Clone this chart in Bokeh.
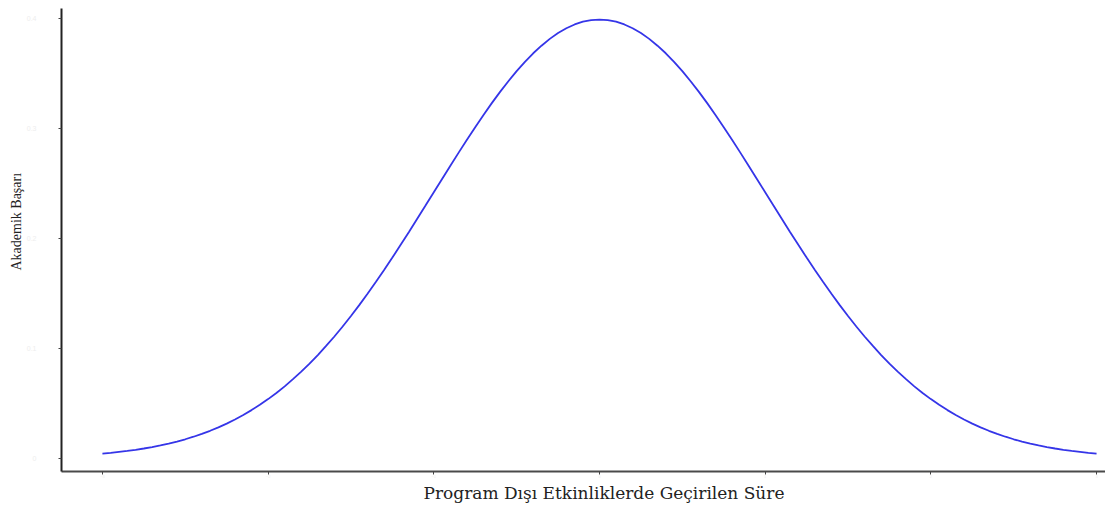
from bokeh.plotting import figure
from bokeh.models import Range1d, FixedTicker, Title
from bokeh.embed import file_html
from bokeh.resources import INLINE

# Values
x_values = [-3.0, -2.95, -2.9, -2.85, -2.8, -2.75, -2.7, -2.65, -2.6, -2.55,
            -2.5, -2.45, -2.4, -2.35, -2.3, -2.25, -2.2, -2.15, -2.1, -2.05,
            -2.0, -1.95, -1.9, -1.85, -1.8, -1.75, -1.7, -1.65, -1.6, -1.55,
            -1.5, -1.45, -1.4, -1.35, -1.3, -1.25, -1.2, -1.15, -1.1, -1.05,
            -1.0, -0.95, -0.9, -0.85, -0.8, -0.75, -0.7, -0.65, -0.6, -0.55,
            -0.5, -0.45, -0.4, -0.35, -0.3, -0.25, -0.2, -0.15, -0.1, -0.05,
            0.0,
            0.05, 0.1, 0.15, 0.2, 0.25, 0.3, 0.35, 0.4, 0.45, 0.5,
            0.55, 0.6, 0.65, 0.7, 0.75, 0.8, 0.85, 0.9, 0.95, 1.0,
            1.05, 1.1, 1.15, 1.2, 1.25, 1.3, 1.35, 1.4, 1.45, 1.5,
            1.55, 1.6, 1.65, 1.7, 1.75, 1.8, 1.85, 1.9, 1.95, 2.0,
            2.05, 2.1, 2.15, 2.2, 2.25, 2.3, 2.35, 2.4, 2.45, 2.5,
            2.55, 2.6, 2.65, 2.7, 2.75, 2.8, 2.85, 2.9, 2.95, 3.0]
y_values = [0.0044, 0.0051, 0.0060, 0.0069, 0.0079, 0.0091, 0.0104, 0.0119, 0.0136, 0.0154,
            0.0175, 0.0198, 0.0224, 0.0252, 0.0283, 0.0317, 0.0355, 0.0396, 0.0440, 0.0488,
            0.0540, 0.0596, 0.0656, 0.0721, 0.0790, 0.0863, 0.0940, 0.1023, 0.1109, 0.1200,
            0.1295, 0.1394, 0.1497, 0.1604, 0.1714, 0.1826, 0.1942, 0.2059, 0.2179, 0.2299,
            0.2420, 0.2541, 0.2661, 0.2780, 0.2897, 0.3011, 0.3123, 0.3230, 0.3332, 0.3429,
            0.3521, 0.3605, 0.3683, 0.3752, 0.3814, 0.3867, 0.3910, 0.3945, 0.3970, 0.3984,
            0.3989,
            0.3984, 0.3970, 0.3945, 0.3910, 0.3867, 0.3814, 0.3752, 0.3683, 0.3605, 0.3521,
            0.3429, 0.3332, 0.3230, 0.3123, 0.3011, 0.2897, 0.2780, 0.2661, 0.2541, 0.2420,
            0.2299, 0.2179, 0.2059, 0.1942, 0.1826, 0.1714, 0.1604, 0.1497, 0.1394, 0.1295,
            0.1200, 0.1109, 0.1023, 0.0940, 0.0863, 0.0790, 0.0721, 0.0656, 0.0596, 0.0540,
            0.0488, 0.0440, 0.0396, 0.0355, 0.0317, 0.0283, 0.0252, 0.0224, 0.0198, 0.0175,
            0.0154, 0.0136, 0.0119, 0.0104, 0.0091, 0.0079, 0.0069, 0.0060, 0.0051, 0.0044]
x_ticks = [-3, -2, -1, 0, 1, 2, 3]
y_ticks = [0, 0.1, 0.2, 0.3, 0.4]
x_title = "Program Dışı Etkinliklerde Geçirilen Süre"
y_title = "Akademik Başarı"

p = figure(output_backend="svg", toolbar_location=None,
           frame_width=1044, frame_height=463,
           min_border_left=61, min_border_top=8, min_border_right=0, min_border_bottom=34,
           x_range=Range1d(-3.247, 3.054), y_range=Range1d(-0.0118, 0.409))

p.line(x_values, y_values, line_color="#3535e8", line_width=1.8)

p.xgrid.visible = False
p.ygrid.visible = False
p.outline_line_color = None
p.background_fill_color = "white"
p.border_fill_color = "white"

p.xaxis.ticker = FixedTicker(ticks=x_ticks)
p.yaxis.ticker = FixedTicker(ticks=y_ticks)
for ax in (p.xaxis, p.yaxis):
    ax.minor_tick_line_color = None
    ax.major_tick_out = 3
    ax.major_tick_in = 0
    ax.major_tick_line_color = "#444444"
    ax.major_label_text_color = "#eeeeee"
    ax.major_label_text_font_size = "7px"
    ax.major_label_standoff = 2

p.xaxis.major_label_text_font_size = "4px"
p.xaxis.major_label_standoff = 0
p.yaxis.major_label_standoff = 22

p.xaxis.axis_line_color = "#4a4a4a"
p.xaxis.axis_line_width = 1.8
p.yaxis.axis_line_color = "#222222"
p.yaxis.axis_line_width = 2

p.add_layout(Title(text=x_title, align="left", offset=362, standoff=0,
                   text_font="DejaVu Serif", text_font_size="17px",
                   text_font_style="normal", text_color="#222222"), "below")
p.add_layout(Title(text=y_title, align="left", offset=201, standoff=0,
                   text_font="Liberation Serif", text_font_size="14px",
                   text_font_style="normal", text_color="#222222"), "left")

open("out.html", "w").write(file_html(p, INLINE))
